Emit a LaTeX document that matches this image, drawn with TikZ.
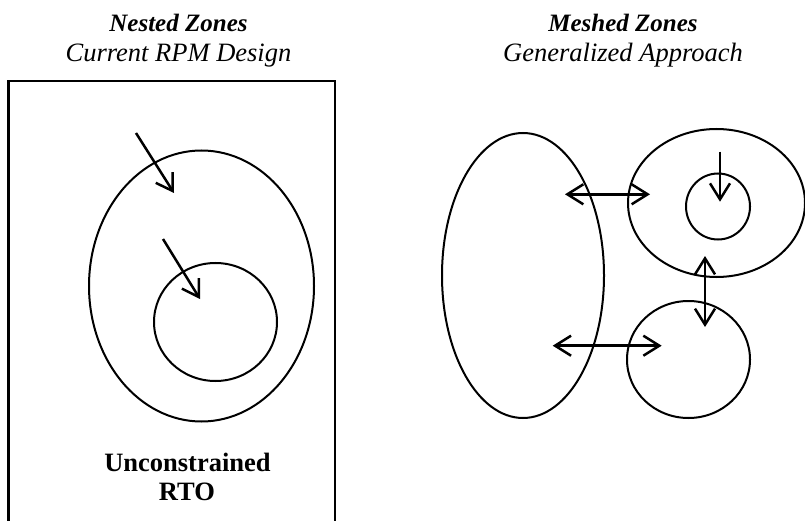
\documentclass[tikz,border=0pt]{standalone}
\usepackage{fontspec}
\setmainfont{Liberation Serif}
\usetikzlibrary{shapes.geometric,arrows.meta}
\begin{document}
\begin{tikzpicture}[x=1pt,y=-1pt,
  zone/.style={draw,ellipse,line width=2pt,inner sep=0pt},
  tip/.tip={Straight Barb[length=16pt,width=20pt,line width=2.5pt]},
  arr/.style={line width=2.5pt,-tip},
  darr/.style={line width=2.5pt,tip-tip},
  ttl/.style={anchor=base,inner sep=0pt,font=\fontsize{25}{30}\selectfont\bfseries\itshape},
  sub/.style={anchor=base,inner sep=0pt,font=\fontsize{26.5}{30}\selectfont\itshape},
  lbl/.style={anchor=base,inner sep=0pt,font=\fontsize{26.5}{30}\selectfont\bfseries}]
\useasboundingbox (0,0) rectangle (805,521);
% left panel
\node[ttl] (t1) at (178.5,32) {Nested Zones};
\node[sub] (s1) at (178.5,62) {Current RPM Design};
\draw[line width=2.5pt] (8.5,530) -- (8.5,81) -- (335,81) -- (335,530);
\node[zone,minimum width=225pt,minimum height=271pt] (outer) at (201.5,286) {};
\node[zone,minimum width=123pt,minimum height=118pt] (inner) at (215.5,322) {};
\coordinate (a1s) at (136,133); \coordinate (a1e) at (174,193);
\coordinate (a2s) at (163,239); \coordinate (a2e) at (200,299);
\draw[arr] (a1s) -- (a1e);
\draw[arr] (a2s) -- (a2e);
\node[lbl] (u1) at (187.5,471.5) {Unconstrained};
\node[lbl] (u2) at (187,500.5) {RTO};
% right panel
\node[ttl] (t2) at (623,32) {Meshed Zones};
\node[sub] (s2) at (623,62) {Generalized Approach};
\node[zone,minimum width=162pt,minimum height=285pt] (big) at (523,275.5) {};
\node[zone,minimum width=177pt,minimum height=148pt] (tr) at (716.5,203) {};
\node[zone,minimum width=64pt,minimum height=66pt] (trc) at (718,206.5) {};
\node[zone,minimum width=123pt,minimum height=117pt] (br) at (688.5,359.5) {};
\coordinate (h1s) at (565,194.3); \coordinate (h1e) at (650,194.3);
\coordinate (h2s) at (552.7,345.7); \coordinate (h2e) at (661.7,345.7);
\coordinate (v1s) at (705,256); \coordinate (v1e) at (705,327);
\coordinate (d1s) at (720,151.7); \coordinate (d1e) at (720,201.7);
\draw[darr] (h1s) -- (h1e);
\draw[darr] (h2s) -- (h2e);
\draw[darr] (v1s) -- (v1e);
\draw[arr] (d1s) -- (d1e);
\end{tikzpicture}
\end{document}
